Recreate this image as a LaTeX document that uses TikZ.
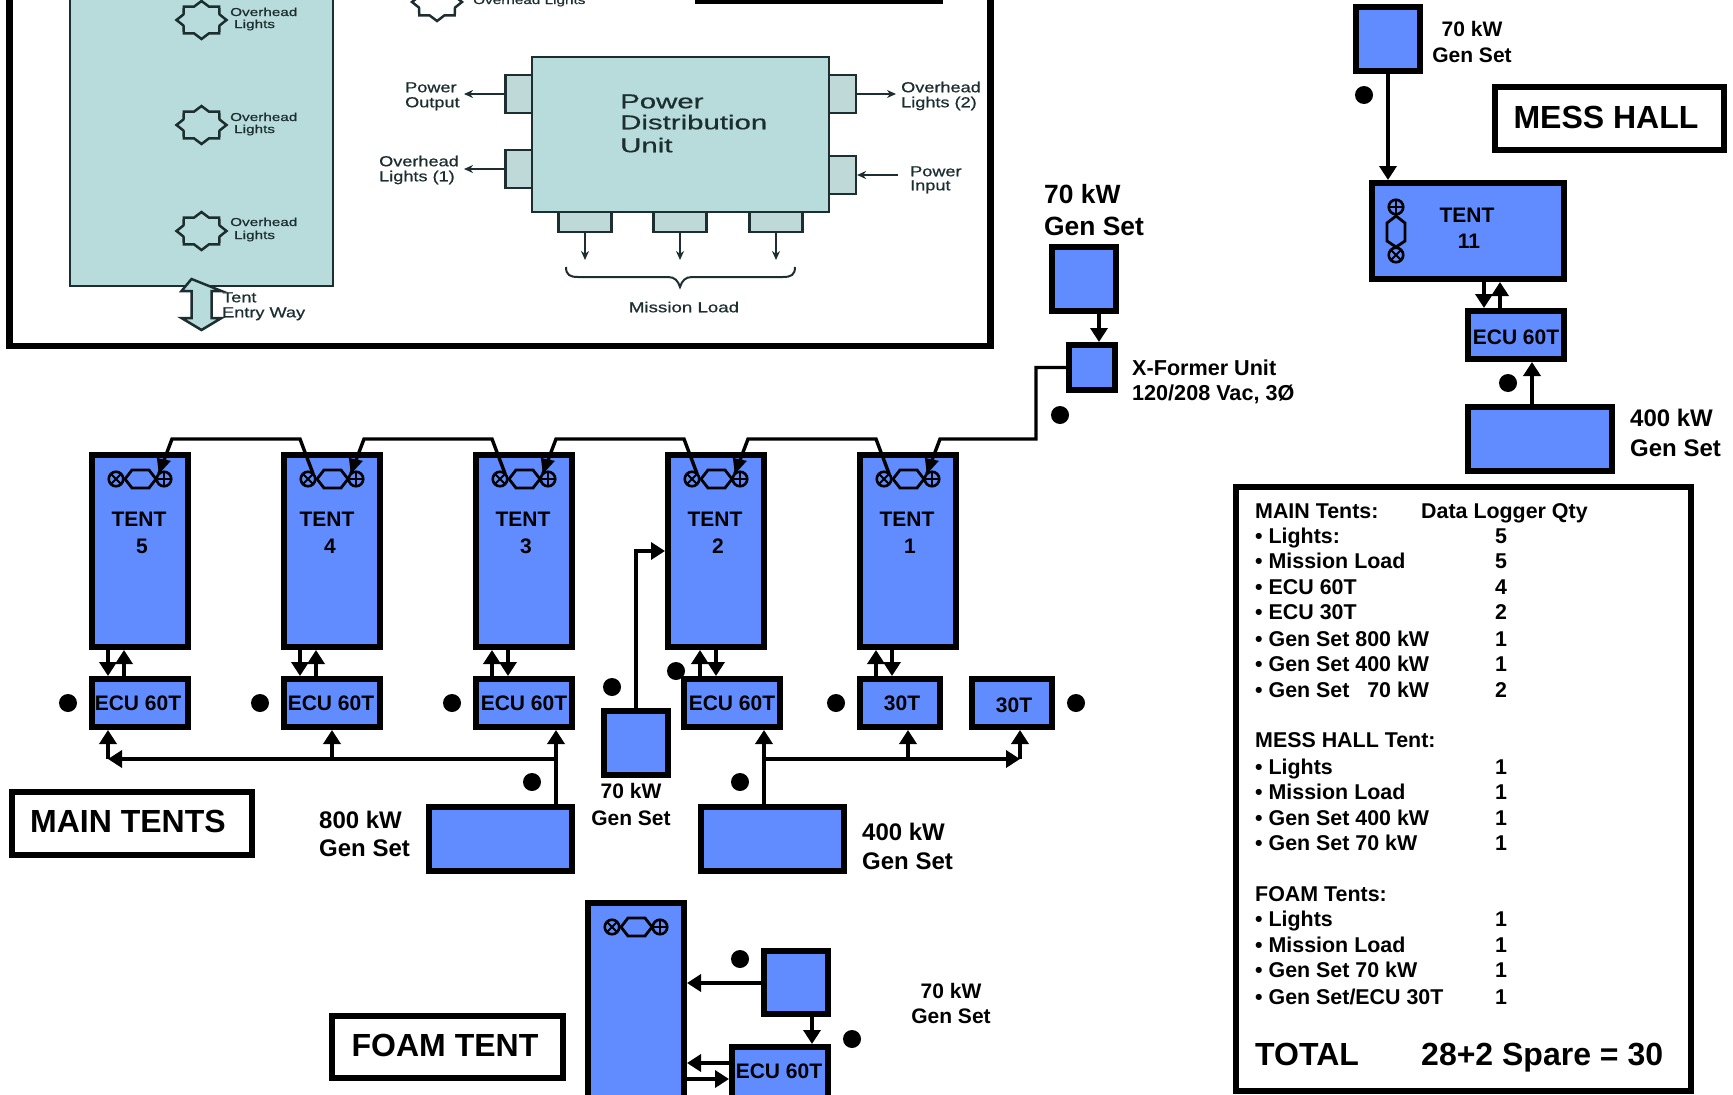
\documentclass[tikz,border=0pt]{standalone}
\usepackage{fontspec}
\usepackage{graphicx}
\setmainfont{Liberation Sans}
\newfontfamily\panfont[FakeBold=0.6]{Liberation Sans}
\usetikzlibrary{arrows.meta}
\definecolor{tb}{HTML}{608CFF}
\definecolor{teal1}{HTML}{B8DCDC}
\definecolor{teal2}{HTML}{BFD8D8}
\definecolor{dk}{HTML}{1C2E30}
\newcounter{lblc}
\tikzset{
  box/.style={draw=black,fill=tb,line width=6pt,inner sep=0pt},
  wbox/.style={draw=black,fill=white,line width=6pt,inner sep=0pt},
  ar/.style={line width=4.5pt,-{Triangle[length=14pt,width=17pt]}},
  wire/.style={line width=3.4pt,line join=miter},
  dot/.style={circle,fill=black,minimum size=18pt,inner sep=0pt},
  lampc/.style={circle,draw=black,line width=2.6pt,minimum size=14.5pt,inner sep=0pt,outer sep=0pt},
  lamph/.style={line width=2.8pt},
  bt/.style={font=\bfseries\fontsize{21}{25}\selectfont,inner sep=0pt,text height=15pt,text depth=0pt},
  rt/.style={font=\bfseries\fontsize{21.4}{25}\selectfont,inner sep=0pt,text height=15pt,text depth=0pt},
  bl/.style={font=\bfseries\fontsize{24}{28}\selectfont,inner sep=0pt,text height=17pt,text depth=0pt},
  bk/.style={font=\bfseries\fontsize{26.4}{30}\selectfont,inner sep=0pt,text height=19pt,text depth=0pt},
  xt/.style={font=\bfseries\fontsize{21.6}{25}\selectfont,inner sep=0pt,text height=15pt,text depth=0pt},
  tt/.style={font=\bfseries\fontsize{32}{36}\selectfont,inner sep=0pt,text height=23pt,text depth=0pt},
  pan/.style={draw=dk,fill=teal1,line width=2.5pt},
  tab/.style={draw=dk,fill=teal2,line width=2.2pt},
  par/.style={draw=dk,line width=2pt,-{Stealth[length=9pt,width=8pt]}},
  st/.style={text=dk,inner sep=0pt,font=\panfont\fontsize{11.5}{13}\selectfont,text height=8pt,text depth=0pt},
  pt/.style={text=dk,inner sep=0pt,font=\panfont\fontsize{14.5}{16}\selectfont,text height=10.5pt,text depth=0pt},
  ph/.style={text=dk,inner sep=0pt,font=\panfont\fontsize{20}{22}\selectfont,text height=14.5pt,text depth=0pt}
}
\newcommand{\bx}[6]{%
  \pgfmathsetmacro\mycx{(#2+#4)/2}\pgfmathsetmacro\mycy{(#3+#5)/2}%
  \pgfmathsetmacro\mybw{#4-#2-6}\pgfmathsetmacro\mybh{#5-#3-6}%
  \node[box,minimum width=\mybw pt,minimum height=\mybh pt] (#1) at (\mycx,\mycy) {#6};}
\newcommand{\wbx}[6]{%
  \pgfmathsetmacro\mycx{(#2+#4)/2}\pgfmathsetmacro\mycy{(#3+#5)/2}%
  \pgfmathsetmacro\mybw{#4-#2-6}\pgfmathsetmacro\mybh{#5-#3-6}%
  \node[wbox,minimum width=\mybw pt,minimum height=\mybh pt] (#1) at (\mycx,\mycy) {#6};}
% generic auto-named label: style, anchor, x, y, text
\newcommand{\lbl}[5]{\stepcounter{lblc}\node[#1,anchor=#2] (l\thelblc) at (#3,#4) {#5};}
\newcommand{\wdt}[2]{\scalebox{#1}[1]{#2}}
% lamp symbols
\newcommand{\lampcirc}[4]{% name x y kind
  \node[lampc] (#1) at (#2,#3) {};
  \ifnum#4=0
    \draw[line width=2pt] (#1.north east) -- (#1.south west) (#1.north west) -- (#1.south east);
  \else
    \draw[line width=2pt] (#1.north) -- (#1.south) (#1.west) -- (#1.east);
  \fi}
\newcommand{\lampH}[3]{% name x y of the crossed circle
  \lampcirc{#1-x}{#2}{#3}{0}
  \lampcirc{#1-p}{#2+48}{#3}{1}
  \begin{scope}[shift={(#2,#3)}]
    \draw[lamph] (9,0) -- (16,-9) -- (33,-9) -- (40,0) -- (33,9) -- (16,9) -- cycle;
  \end{scope}}
\newcommand{\wh}[1]{\fill (#1.north west) -- ++(-2,-16) -- ++(14,3) -- cycle;}
\newcommand{\starsh}[2]{%
  \begin{scope}[shift={(#1,#2)}]
  \draw[dk,line width=2.5pt,line join=miter] plot[samples at={0,22.5,...,337.5},variable=\a]
     ({(mod(\a,45)==0?25:19.5)*cos(\a)},{(mod(\a,45)==0?19:14.5)*sin(\a)}) -- cycle;
  \end{scope}}
\newcommand{\rw}[3]{% y, text, qty
  \lbl{rt}{west}{1255}{#1}{#2}
  \lbl{rt}{center}{1501}{#1}{#3}}
\begin{document}
\begin{tikzpicture}[x=1pt,y=-1pt]
\useasboundingbox (0,0) rectangle (1733,1095);
\clip (0,0) rectangle (1733,1095);
\fill[white] (0,0) rectangle (1733,1095);

% ---------- top-left panel ----------
\draw[black,line width=6.5pt,fill=white] (9.5,-12) rectangle (990.5,346);
\fill[black] (695,-2) rectangle (943,4);
\draw[pan] (70,-12) rectangle (333,286);
\starsh{201.5}{20}\starsh{201.5}{125}\starsh{201.5}{231}\starsh{437}{2}
\lbl{st}{west}{230}{12}{\wdt{1.33}{Overhead}}
\lbl{st}{west}{234}{24}{\wdt{1.33}{Lights}}
\lbl{st}{west}{230}{117}{\wdt{1.33}{Overhead}}
\lbl{st}{west}{234}{129}{\wdt{1.33}{Lights}}
\lbl{st}{west}{230}{222}{\wdt{1.33}{Overhead}}
\lbl{st}{west}{234}{235}{\wdt{1.33}{Lights}}
\lbl{st}{west}{473}{0}{\wdt{1.33}{Overhead Lights}}
\draw[pan] (191.5,279) -- (181.5,291) -- (191.5,291) -- (191.5,318) -- (181.5,318) -- (201.5,330)
  -- (221.5,318) -- (211.5,318) -- (211.5,291) -- (221.5,291) -- cycle;
\lbl{pt}{west}{222}{297}{\wdt{1.25}{Tent}}
\lbl{pt}{west}{222}{312}{\wdt{1.25}{Entry Way}}

\node[tab,minimum width=27pt,minimum height=38pt,inner sep=0pt] (tl1) at (519,94) {};
\node[tab,minimum width=27pt,minimum height=38pt,inner sep=0pt] (tl2) at (519,169) {};
\node[tab,minimum width=27pt,minimum height=38pt,inner sep=0pt] (tr1) at (842.5,94) {};
\node[tab,minimum width=27pt,minimum height=38pt,inner sep=0pt] (tr2) at (842.5,175) {};
\node[tab,minimum width=53pt,minimum height=20pt,inner sep=0pt] (tb1) at (585,222) {};
\node[tab,minimum width=53pt,minimum height=20pt,inner sep=0pt] (tb2) at (680,222) {};
\node[tab,minimum width=53pt,minimum height=20pt,inner sep=0pt] (tb3) at (776,222) {};
\node[pan,minimum width=297pt,minimum height=155pt,inner sep=0pt] (pdu) at (680.5,134.5) {};
\lbl{ph}{west}{620}{101}{\wdt{1.47}{Power}}
\lbl{ph}{west}{620}{122}{\wdt{1.47}{Distribution}}
\lbl{ph}{west}{620}{145}{\wdt{1.47}{Unit}}
\coordinate (c1) at (464,94); \coordinate (c2) at (464,169);
\coordinate (c3) at (896,94); \coordinate (c4) at (898,175);
\coordinate (c5) at (585,260); \coordinate (c6) at (680,260); \coordinate (c7) at (776,260);
\draw[par] (tl1.west) -- (c1);
\draw[par] (tl2.west) -- (c2);
\draw[par] (tr1.east) -- (c3);
\draw[par] (c4) -- (tr2.east);
\draw[par] (tb1.south) -- (c5);
\draw[par] (tb2.south) -- (c6);
\draw[par] (tb3.south) -- (c7);
\draw[dk,line width=2pt] (566,267) .. controls (566,275) and (570,277) .. (578,277)
  -- (668,277) .. controls (675,277) and (678,281) .. (680,287)
  .. controls (682,281) and (685,277) .. (692,277) -- (783,277)
  .. controls (791,277) and (795,275) .. (795,267);
\lbl{pt}{center}{684}{307}{\wdt{1.29}{Mission Load}}
\lbl{pt}{west}{405}{87}{\wdt{1.25}{Power}}
\lbl{pt}{west}{405}{102}{\wdt{1.25}{Output}}
\lbl{pt}{west}{379}{161}{\wdt{1.25}{Overhead}}
\lbl{pt}{west}{379}{176}{\wdt{1.25}{Lights (1)}}
\lbl{pt}{west}{901}{87}{\wdt{1.25}{Overhead}}
\lbl{pt}{west}{901}{102}{\wdt{1.25}{Lights (2)}}
\lbl{pt}{west}{910}{171}{\wdt{1.25}{Power}}
\lbl{pt}{west}{910}{185}{\wdt{1.25}{Input}}

% ---------- main tents ----------
\bx{t5}{89}{452}{191}{650}{}
\bx{t4}{281}{452}{383}{650}{}
\bx{t3}{473}{452}{575}{650}{}
\bx{t2}{665}{452}{767}{650}{}
\bx{t1}{857}{452}{959}{650}{}
\lampH{t5}{116}{479}
\lampH{t4}{308}{479}
\lampH{t3}{500}{479}
\lampH{t2}{692}{479}
\lampH{t1}{884}{479}
\lbl{bt}{center}{139}{519}{TENT}\lbl{bt}{center}{142}{546}{5}
\lbl{bt}{center}{327}{519}{TENT}\lbl{bt}{center}{330}{546}{4}
\lbl{bt}{center}{523}{519}{TENT}\lbl{bt}{center}{526}{546}{3}
\lbl{bt}{center}{715}{519}{TENT}\lbl{bt}{center}{718}{546}{2}
\lbl{bt}{center}{907}{519}{TENT}\lbl{bt}{center}{910}{546}{1}

\bx{e5}{89}{676}{191}{730}{}
\bx{e4}{281}{676}{383}{730}{}
\bx{e3}{473}{676}{575}{730}{}
\bx{e2}{681}{676}{783}{730}{}
\bx{e1}{857}{676}{943}{730}{}
\bx{e0}{969}{676}{1055}{730}{}
\lbl{bt}{center}{138}{703}{ECU 60T}
\lbl{bt}{center}{331}{703}{ECU 60T}
\lbl{bt}{center}{524}{703}{ECU 60T}
\lbl{bt}{center}{732}{703}{ECU 60T}
\lbl{bt}{center}{902}{703}{30T}
\lbl{bt}{center}{1014}{705}{30T}

% tent <-> ECU arrows
\coordinate (a5d) at (108,650); \coordinate (a5u) at (124,676);
\coordinate (a4d) at (300,650); \coordinate (a4u) at (316,676);
\coordinate (a3u) at (492,676); \coordinate (a3d) at (508,650);
\coordinate (a2u) at (700,676); \coordinate (a2d) at (716,650);
\coordinate (a1u) at (876,676); \coordinate (a1d) at (892,650);
\draw[ar] (a5d) -- (a5d |- e5.north);
\draw[ar] (a5u) -- (a5u |- t5.south);
\draw[ar] (a4d) -- (a4d |- e4.north);
\draw[ar] (a4u) -- (a4u |- t4.south);
\draw[ar] (a3d) -- (a3d |- e3.north);
\draw[ar] (a3u) -- (a3u |- t3.south);
\draw[ar] (a2d) -- (a2d |- e2.north);
\draw[ar] (a2u) -- (a2u |- t2.south);
\draw[ar] (a1d) -- (a1d |- e1.north);
\draw[ar] (a1u) -- (a1u |- t1.south);

% power wiring along the tent tops
\bx{gx}{1049}{244}{1119}{314}{}
\bx{xf}{1066}{342}{1118}{393}{}
\coordinate (gxa) at (1099,314);
\draw[ar] (gxa) -- (gxa |- xf.north);
\coordinate (j0) at (1036,439);
\coordinate (j1) at (940,439);
\coordinate (j2) at (876,439); \coordinate (j3) at (748,439);
\coordinate (j4) at (684,439); \coordinate (j5) at (556,439);
\coordinate (j6) at (492,439); \coordinate (j7) at (364,439);
\coordinate (j8) at (300,439); \coordinate (j9) at (172,439);
\draw[wire] (xf.west) -| (j0) -- (j1) -- (t1-p.north west);
\draw[wire] (t1-x.north east) -- (j2) -- (j3) -- (t2-p.north west);
\draw[wire] (t2-x.north east) -- (j4) -- (j5) -- (t3-p.north west);
\draw[wire] (t3-x.north east) -- (j6) -- (j7) -- (t4-p.north west);
\draw[wire] (t4-x.north east) -- (j8) -- (j9) -- (t5-p.north west);
\wh{t1-p}\wh{t2-p}\wh{t3-p}\wh{t4-p}\wh{t5-p}

% generators of the main tents
\bx{g800}{426}{804}{575}{874}{}
\bx{g400}{698}{804}{847}{874}{}
\bx{g70}{601}{708}{671}{778}{}
\coordinate (b5) at (108,759); \coordinate (b4) at (332,759); \coordinate (b3) at (556,759);
\coordinate (b2) at (764,759); \coordinate (b1) at (908,759); \coordinate (b0) at (1020,759);
\draw[ar] (b3) -- (b5);
\draw[ar] (b2) -- (b0);
\draw[ar] (b5) -- (b5 |- e5.south);
\draw[ar] (b4) -- (b4 |- e4.south);
\draw[ar] (b3 |- g800.north) -- (b3 |- e3.south);
\draw[ar] (b2 |- g400.north) -- (b2 |- e2.south);
\draw[ar] (b1) -- (b1 |- e1.south);
\draw[ar] (b0) -- (b0 |- e0.south);
\coordinate (g70c) at (636,551);
\draw[ar] (g70c |- g70.north) -- (g70c) -- (t2.west |- g70c);

\lbl{bl}{west}{319}{820}{800 kW}
\lbl{bl}{west}{319}{848}{Gen Set}
\lbl{bl}{west}{862}{832}{400 kW}
\lbl{bl}{west}{862}{861}{Gen Set}
\lbl{bt}{center}{631}{791}{70 kW}
\lbl{bt}{center}{631}{818}{Gen Set}
\lbl{bk}{west}{1044}{194}{70 kW}
\lbl{bk}{west}{1044}{226}{Gen Set}
\lbl{xt}{west}{1132}{368}{X-Former Unit}
\lbl{xt}{west}{1132}{393}{120/208 Vac, 3Ø}

\wbx{mt}{9}{789}{255}{858}{}
\lbl{tt}{center}{128}{821}{MAIN TENTS}
\wbx{ft}{329}{1013}{566}{1081}{}
\lbl{tt}{center}{445}{1045}{FOAM TENT}

% ---------- foam tent ----------
\bx{ft1}{585}{900}{687}{1102}{}
\lampH{f}{612}{927}
\bx{fg}{761}{948}{831}{1017}{}
\bx{fe}{729}{1044}{831}{1102}{}
\lbl{bt}{center}{779}{1071}{ECU 60T}
\coordinate (fa) at (812,1017); \coordinate (fb) at (687,983);
\coordinate (fc) at (729,1063); \coordinate (fd) at (687,1079);
\draw[ar] (fg.west |- fb) -- (fb);
\draw[ar] (fa) -- (fa |- fe.north);
\draw[ar] (fc) -- (ft1.east |- fc);
\draw[ar] (fd) -- (fe.west |- fd);
\lbl{bt}{center}{951}{991}{70 kW}
\lbl{bt}{center}{951}{1016}{Gen Set}

% ---------- mess hall ----------
\bx{mg}{1353}{4}{1423}{74}{}
\bx{m11}{1369}{180}{1567}{282}{}
\bx{me}{1465}{308}{1567}{362}{}
\bx{mg4}{1465}{404}{1615}{474}{}
\wbx{mh}{1492}{84}{1727}{153}{}
\lbl{tt}{center}{1606}{117}{MESS HALL}
\lampcirc{m-p}{1396}{207}{1}
\lampcirc{m-x}{1396}{255}{0}
\draw[lamph] (1396,216) -- (1405,223) -- (1405,241) -- (1396,247) -- (1387,241) -- (1387,223) -- cycle;
\lbl{bt}{center}{1467}{215}{TENT}
\lbl{bt}{center}{1469}{241}{11}
\lbl{bt}{center}{1516}{337}{ECU 60T}
\coordinate (ma) at (1388,74); \coordinate (mb) at (1484,282); \coordinate (mc) at (1500,308);
\coordinate (md) at (1532,404);
\draw[ar] (ma) -- (ma |- m11.north);
\draw[ar] (mb) -- (mb |- me.north);
\draw[ar] (mc) -- (mc |- m11.south);
\draw[ar] (md) -- (md |- me.south);
\lbl{bt}{center}{1472}{29}{70 kW}
\lbl{bt}{center}{1472}{55}{Gen Set}
\lbl{bl}{west}{1630}{418}{400 kW}
\lbl{bl}{west}{1630}{448}{Gen Set}

% ---------- dots ----------
\node[dot] (d1) at (68,703) {};
\node[dot] (d2) at (260,703) {};
\node[dot] (d3) at (452,703) {};
\node[dot] (d4) at (676,671) {};
\node[dot] (d5) at (836,703) {};
\node[dot] (d6) at (1076,703) {};
\node[dot] (d7) at (612,687) {};
\node[dot] (d8) at (532,782) {};
\node[dot] (d9) at (740,782) {};
\node[dot] (d10) at (1060,415) {};
\node[dot] (d11) at (740,959) {};
\node[dot] (d12) at (852,1039) {};
\node[dot] (d13) at (1364,95) {};
\node[dot] (d14) at (1508,383) {};

% ---------- table ----------
\node[draw=black,fill=white,line width=6pt,minimum width=455pt,minimum height=604pt,inner sep=0pt] (tbl) at (1463.5,788.5) {};
\lbl{rt}{west}{1255}{511}{MAIN Tents:}
\lbl{rt}{west}{1421}{511}{Data Logger Qty}
\rw{536}{• Lights:}{5}
\rw{561}{• Mission Load}{5}
\rw{587}{• ECU 60T}{4}
\rw{612}{• ECU 30T}{2}
\rw{639}{• Gen Set 800 kW}{1}
\rw{664}{• Gen Set 400 kW}{1}
\rw{690}{• Gen Set \ \ 70 kW}{2}
\lbl{rt}{west}{1255}{740}{MESS HALL Tent:}
\rw{767}{• Lights}{1}
\rw{792}{• Mission Load}{1}
\rw{818}{• Gen Set 400 kW}{1}
\rw{843}{• Gen Set 70 kW}{1}
\lbl{rt}{west}{1255}{894}{FOAM Tents:}
\rw{919}{• Lights}{1}
\rw{945}{• Mission Load}{1}
\rw{970}{• Gen Set 70 kW}{1}
\rw{997}{• Gen Set/ECU 30T}{1}
\lbl{tt}{west}{1255}{1054}{TOTAL}
\lbl{tt}{west}{1421}{1054}{28+2 Spare = 30}
\end{tikzpicture}
\end{document}
